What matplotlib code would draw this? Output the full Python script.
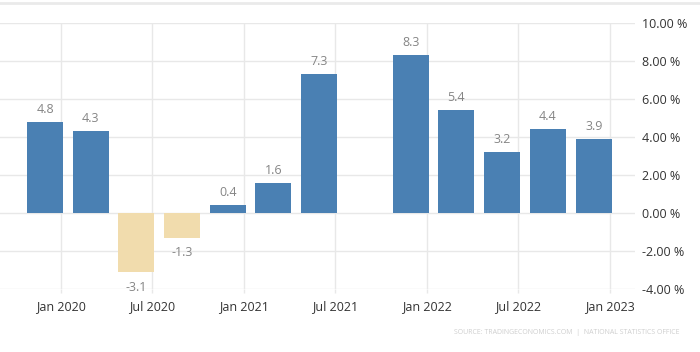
import matplotlib
matplotlib.use('Agg')
import matplotlib.pyplot as plt
import matplotlib.dates as mdates
import matplotlib.ticker as mticker
import pandas as pd
import numpy as np

plt.rcParams['font.family'] = ['Open Sans', 'DejaVu Sans']

# quarterly values (quarter end dates), Q3 2021 has no bar
quarters = ['2019-12-31', '2020-03-31', '2020-06-30', '2020-09-30',
            '2020-12-31', '2021-03-31', '2021-06-30', '2021-09-30',
            '2021-12-31', '2022-03-31', '2022-06-30', '2022-09-30',
            '2022-12-31']
values = [4.8, 4.3, -3.1, -1.3, 0.4, 1.6, 7.3, np.nan,
          8.3, 5.4, 3.2, 4.4, 3.9]
yticks = [-4, -2, 0, 2, 4, 6, 8, 10]
xticks = ['2020-01-01', '2020-07-01', '2021-01-01', '2021-07-01',
          '2022-01-01', '2022-07-01', '2023-01-01']

pos_color = '#4a80b3'
neg_color = '#f1dcad'
grid_color = '#e8e8e8'

dates = pd.to_datetime(quarters) - pd.Timedelta(days=31)
vals = np.array(values)

fig = plt.figure(figsize=(7, 3.52), dpi=100)
ax = fig.add_axes([0, 289 / 352 * 0 + (352 - 289) / 352, 635 / 700, 266 / 352])

colors = [pos_color if v >= 0 else neg_color for v in np.nan_to_num(vals)]
ax.bar(dates, np.nan_to_num(vals), width=72, color=colors, zorder=3)

for d, v in zip(dates, vals):
    if np.isnan(v):
        continue
    off = 9 if v >= 0 else -11
    ax.annotate('%.1f' % v, (d, v), xytext=(0, off), textcoords='offset points',
                ha='center', va='center', fontsize=9, color='#858585')

ax.set_xlim(pd.Timestamp('2019-09-01'), pd.Timestamp('2023-02-20'))
ax.set_ylim(-4, 10)

ax.yaxis.tick_right()
ax.set_yticks(yticks)
ax.yaxis.set_major_formatter(mticker.FuncFormatter(lambda v, p: '%.2f %%' % v))
ax.tick_params(axis='y', length=0, pad=5, labelsize=9, labelcolor='#333333')

ax.set_xticks(pd.to_datetime(xticks))
ax.xaxis.set_major_formatter(mdates.DateFormatter('%b %Y'))
ax.tick_params(axis='x', length=3, width=1, color=grid_color, pad=5,
               labelsize=9, labelcolor='#333333')

ax.grid(True, color=grid_color, linewidth=1, zorder=0)
for s in ax.spines.values():
    s.set_visible(False)

# top frame line and faint source note
fig.add_artist(plt.Line2D([0, 1], [1 - 3 / 352, 1 - 3 / 352], color='#eaeaea',
                          linewidth=2, transform=fig.transFigure))
fig.text(0.97, 1 - 332 / 352, 'SOURCE: TRADINGECONOMICS.COM  |  NATIONAL STATISTICS OFFICE',
         ha='right', va='center', fontsize=5, color='#cfcfcf')

fig.savefig('out.png', dpi=100)
